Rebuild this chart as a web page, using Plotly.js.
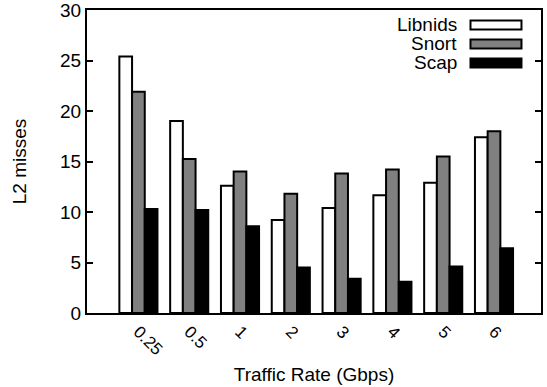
<!DOCTYPE html>
<html>
<head>
<meta charset="utf-8">
<script src="https://cdn.plot.ly/plotly-3.0.1.min.js"></script>
<style>html,body{margin:0;padding:0;background:#fff;}#chart{width:547px;height:387px;}</style>
</head>
<body>
<div id="chart"></div>
<script>
const categories = ["0.25", "0.5", "1", "2", "3", "4", "5", "6"];
const seriesNames = ["Libnids", "Snort", "Scap"];
const libnids = [25.4, 19.0, 12.6, 9.2, 10.4, 11.65, 12.9, 17.4];
const snort = [21.9, 15.25, 14.0, 11.8, 13.8, 14.2, 15.5, 18.0];
const scap = [10.3, 10.2, 8.6, 4.5, 3.4, 3.1, 4.6, 6.4];
const colors = ["#ffffff", "#808080", "#000000"];

const values = [libnids, snort, scap];
const traces = values.map((v, i) => ({
  type: "bar",
  name: seriesNames[i],
  x: categories,
  y: v,
  marker: {color: colors[i], line: {color: "#000", width: 2}},
  showlegend: false,
  hoverinfo: "x+y+name"
}));

const FONT = "Liberation Sans, Arial, Helvetica, sans-serif";
const rowY = [0.9505, 0.8878, 0.8251];
const shapes = [];
const annotations = [];
seriesNames.forEach((n, i) => {
  shapes.push({type: "rect", xref: "paper", yref: "paper",
    x0: 0.8447, x1: 0.957, y0: rowY[i] - 0.0148, y1: rowY[i] + 0.0148,
    fillcolor: colors[i], line: {color: "#000", width: 2}});
  annotations.push({xref: "paper", yref: "paper", x: 0.8194, y: rowY[i],
    xanchor: "right", yanchor: "middle", text: n, showarrow: false,
    font: {family: FONT, size: 19, color: "#000"}});
});

const layout = {
  width: 547, height: 387,
  margin: {l: 87, r: 6, t: 10, b: 74},
  paper_bgcolor: "#fff", plot_bgcolor: "#fff",
  font: {family: FONT, size: 18, color: "#000"},
  barmode: "group", bargap: 0.25, bargroupgap: 0,
  xaxis: {
    type: "category", range: [-1.012, 7.925],
    showline: true, mirror: true, linecolor: "#000", linewidth: 2,
    ticks: "", tickangle: 45, showgrid: false, zeroline: false,
    tickfont: {family: FONT, size: 17},
    title: {text: "Traffic Rate (Gbps)", font: {family: FONT, size: 19}, standoff: 10}
  },
  yaxis: {
    range: [0, 30], dtick: 5, tick0: 0,
    showline: true, mirror: "ticks", linecolor: "#000", linewidth: 2,
    ticks: "inside", ticklen: 6, tickwidth: 2, tickcolor: "#000",
    showgrid: false, zeroline: false, ticklabeloverflow: "allow",
    tickfont: {family: FONT, size: 19},
    title: {text: "L2 misses", font: {family: FONT, size: 19}, standoff: 28}
  },
  shapes: shapes,
  annotations: annotations
};

Plotly.newPlot("chart", traces, layout, {displayModeBar: false, staticPlot: true});
</script>
</body>
</html>
